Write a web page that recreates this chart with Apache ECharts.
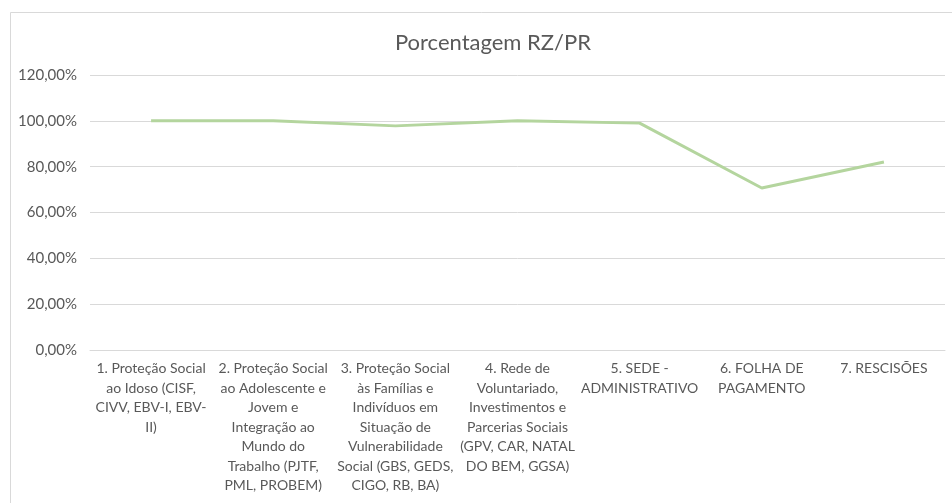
<!DOCTYPE html>
<html><head><meta charset="utf-8">
<script src="https://cdn.jsdelivr.net/npm/echarts@6/dist/echarts.min.js"></script>
<style>html,body{margin:0;padding:0;background:#fff}#c{width:952px;height:503px}</style>
</head><body><div id="c"></div>
<script>
const categories = [
  "1. Proteção Social\nao Idoso (CISF,\nCIVV, EBV-I, EBV-\nII)",
  "2. Proteção Social\nao Adolescente e\nJovem e\nIntegração ao\nMundo do\nTrabalho (PJTF,\nPML, PROBEM)",
  "3. Proteção Social\nàs Famílias e\nIndivíduos em\nSituação de\nVulnerabilidade\nSocial (GBS, GEDS,\nCIGO, RB, BA)",
  "4. Rede de\nVoluntariado,\nInvestimentos e\nParcerias Sociais\n(GPV, CAR, NATAL\nDO BEM, GGSA)",
  "5. SEDE -\nADMINISTRATIVO",
  "6. FOLHA DE\nPAGAMENTO",
  "7. RESCISÕES"
];
const values = [100.0, 100.0, 97.8, 100.0, 99.0, 70.7, 82.0];
const titleText = "Porcentagem RZ/PR";

const chart = echarts.init(document.getElementById('c'));
const font = 'Lato, "Open Sans", sans-serif';
chart.setOption({
  animation: false,
  backgroundColor: '#fff',
  graphic: [{type:'rect', left:8, top:10, shape:{width:1000, height:520}, style:{fill:'none', stroke:'#d9d9d9', lineWidth:1}, silent:true}],
  title: {text: titleText, left: 488, textAlign:'center', top: 27,
    textStyle:{fontFamily:font, fontSize:22, fontWeight:'normal', color:'#595959'}},
  grid: {left: 90, right: 7, top: 75, bottom: 153, containLabel:false},
  xAxis: {type:'category', data: categories, boundaryGap:true,
    axisLine:{lineStyle:{color:'#d9d9d9'}}, axisTick:{show:false},
    axisLabel:{interval:0, color:'#595959', fontFamily:font, fontSize:14, lineHeight:19.5, margin:9, align:'center'}},
  yAxis: {type:'value', min:0, max:120, interval:20,
    axisLine:{show:false}, axisTick:{show:false},
    splitLine:{lineStyle:{color:'#d9d9d9'}},
    axisLabel:{color:'#595959', fontFamily:font, fontSize:15, margin:13,
      formatter: v => v.toFixed(2).replace('.', ',') + '%'}},
  series: [{type:'line', data: values, symbol:'none', lineStyle:{color:'#b4d59e', width:3}}]
});
</script></body></html>
